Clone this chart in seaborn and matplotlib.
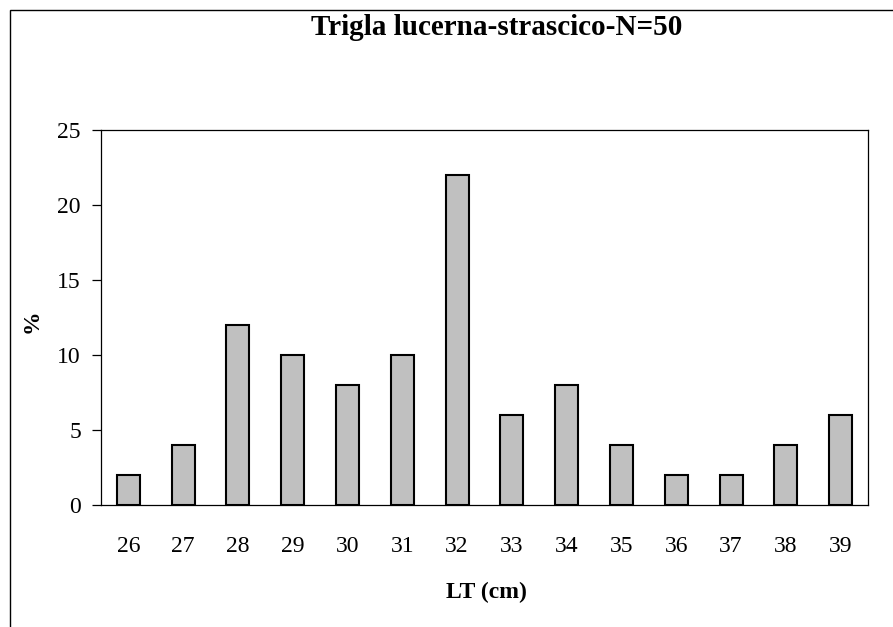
import numpy as np
import matplotlib.pyplot as plt
import seaborn as sns
import pandas as pd
from matplotlib.patches import Rectangle

#%% data
lengths = ['26', '27', '28', '29', '30', '31', '32', '33', '34', '35', '36', '37', '38', '39']
percent = [2, 4, 12, 10, 8, 10, 22, 6, 8, 4, 2, 2, 4, 6]
y_ticks = [0, 5, 10, 15, 20, 25]

df = pd.DataFrame({'LT': lengths, 'pct': percent})

#%% style
sns.set_theme(style='white')
plt.rcParams['font.family'] = ['Liberation Serif', 'DejaVu Serif']
plt.rcParams['text.color'] = 'black'
plt.rcParams['axes.labelcolor'] = 'black'
plt.rcParams['xtick.color'] = 'black'
plt.rcParams['ytick.color'] = 'black'
plt.rcParams['axes.edgecolor'] = 'black'
plt.rcParams['axes.linewidth'] = 0.9

fig = plt.figure(figsize=(8.93, 6.27), dpi=100)
# plot area: x 101..868 px, y 130..505 px
ax = fig.add_axes([101 / 893, 1 - 505 / 627, (868 - 101) / 893, (505 - 130) / 627])

sns.barplot(data=df, x='LT', y='pct', ax=ax, color='#c0c0c0', width=0.42,
            edgecolor='black', linewidth=1.5, saturation=1)

ax.set_xlim(-0.5, len(lengths) - 0.5)
ax.set_ylim(0, 25)
ax.set_yticks(y_ticks)
ax.set_yticklabels([str(t) for t in y_ticks], fontsize=17)
ax.set_xticks(range(len(lengths)))
ax.set_xticklabels(lengths, fontsize=17)
ax.set_xticks(np.arange(-0.5, len(lengths), 1), minor=True)
ax.tick_params(axis='x', which='major', length=0, pad=22)
ax.tick_params(axis='x', which='minor', length=6.5, width=0.9, direction='out')
ax.tick_params(axis='y', length=6.5, width=0.9, direction='out', pad=8)
ax.tick_params(left=True, bottom=True)
for s in ax.spines.values():
    s.set_visible(True)

ax.set_xlabel('LT (cm)', fontsize=17, fontweight='bold', va='center')
ax.xaxis.set_label_coords(0.502, (505 - 592) / 375)
ax.set_ylabel('%', fontsize=17, fontweight='bold', va='center')
ax.yaxis.set_label_coords((32 - 101) / 767, (505 - 321) / 375)

fig.text(497 / 893, 1 - 35 / 627, 'Trigla lucerna-strascico-N=50', ha='center', va='baseline',
         fontsize=21, fontweight='bold')

# outer chart frame
fig.patches.append(Rectangle((9.5 / 893, -0.05), 1.1, 1 - 9.5 / 627 + 0.05,
                             transform=fig.transFigure, fill=False,
                             edgecolor='black', linewidth=1.0, clip_on=False))

fig.savefig('out.png', dpi=100)
